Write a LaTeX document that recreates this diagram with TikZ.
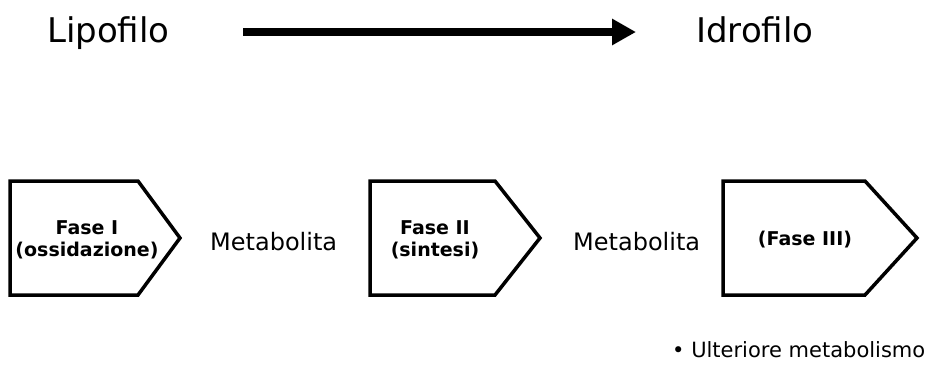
\documentclass[tikz,border=0pt]{standalone}
\usepackage{fontspec}
\setmainfont{DejaVu Sans}
\usetikzlibrary{arrows.meta}

\tikzset{
  phasebox/.style={line width=3.5pt, line join=miter},
  phasetext/.style={font=\bfseries\fontsize{19}{22}\selectfont, align=center, inner sep=0pt},
  bigtext/.style={font=\fontsize{34}{38}\selectfont, inner sep=0pt},
  midtext/.style={font=\fontsize{24}{28}\selectfont, inner sep=0pt},
  smalltext/.style={font=\fontsize{21}{25}\selectfont, inner sep=0pt}
}

\begin{document}
\begin{tikzpicture}[x=1pt,y=-1pt]
    \useasboundingbox (0,0) rectangle (934,365);

    % Draw the top line
    \node[bigtext, anchor=base west] (lipo) at (47,42) {Lipofilo};
    \node[bigtext, anchor=base west] (idro) at (696,42) {Idrofilo};
    \coordinate (start) at (243,32);
    \coordinate (end) at (636,32);
    \draw[line width=7.5pt, -{Triangle[length=24pt,width=25pt]}] (start) -- (end);

    % Draw the phase boxes
    \foreach \l/\f/\t in {10/138/180, 370/495/540, 723/865/917}
        \draw[phasebox] (\l,181) -- (\f,181) -- (\t,238) -- (\f,295) -- (\l,295) -- cycle;

    % Box texts
    \node[phasetext] (fase1) at (87,240) {Fase I\\(ossidazione)};
    \node[phasetext] (fase2) at (435,240) {Fase II\\(sintesi)};
    \node[phasetext] (fase3) at (805,240) {(Fase III)};

    % Metabolites
    \node[midtext, anchor=base west] (met1) at (210,250) {Metabolita};
    \node[midtext, anchor=base west] (met2) at (573,250) {Metabolita};

    % Note
    \node[smalltext, anchor=west] (note) at (672,350) {• Ulteriore metabolismo};
\end{tikzpicture}
\end{document}
